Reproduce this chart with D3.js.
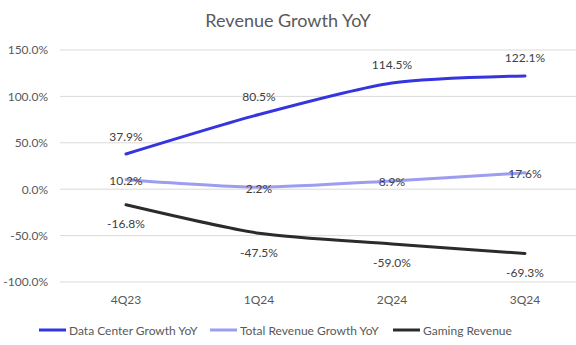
<!DOCTYPE html>
<html>
<head>
<meta charset="utf-8">
<script src="https://cdn.jsdelivr.net/npm/d3@7"></script>
<style>
  body { margin: 0; background: #fff; }
  text { font-family: Lato, "Liberation Sans", sans-serif; }
</style>
</head>
<body>
<div id="chart"></div>
<script>
// Chart data.
var quarters = ["4Q23", "1Q24", "2Q24", "3Q24"];
var dataCenter = [37.9, 80.5, 114.5, 122.1];
var totalRevenue = [10.2, 2.2, 8.9, 17.6];
var gaming = [-16.8, -47.5, -59.0, -69.3];
var yTicks = [-100, -50, 0, 50, 100, 150];

var series = [
  { name: "Data Center Growth YoY", values: dataCenter, color: "#3535e0", labelPos: "above" },
  { name: "Total Revenue Growth YoY", values: totalRevenue, color: "#9c9cf0", labelPos: "center" },
  { name: "Gaming Revenue", values: gaming, color: "#2b2b2b", labelPos: "below" }
];

var svgWidth = 576;
var svgHeight = 345;

var svg = d3.select("#chart")
  .append("svg")
  .attr("width", svgWidth)
  .attr("height", svgHeight);

// Title.
svg.append("text")
  .attr("x", 288)
  .attr("y", 27)
  .attr("text-anchor", "middle")
  .attr("font-size", "18px")
  .attr("fill", "#595959")
  .text("Revenue Growth YoY");

// Scales.
var xScale = d3.scaleBand()
  .domain(quarters)
  .range([59.5, 591.5]);

var yScale = d3.scaleLinear()
  .domain([-100, 150])
  .range([282, 50]);

// Gridlines.
svg.append("g")
  .selectAll("line")
  .data(yTicks)
  .enter()
  .append("line")
  .attr("x1", 60)
  .attr("x2", 576)
  .attr("y1", d => yScale(d))
  .attr("y2", d => yScale(d))
  .attr("stroke", "#d9d9d9")
  .attr("stroke-width", 1);

// Y axis labels.
var leftAxis = d3.axisLeft(yScale)
  .tickValues(yTicks)
  .tickSize(0)
  .tickPadding(0)
  .tickFormat(d => d.toFixed(1) + "%");

svg.append("g")
  .attr("transform", "translate(48, 0)")
  .call(leftAxis)
  .call(g => g.select(".domain").remove())
  .selectAll("text")
  .attr("font-family", "Lato, sans-serif")
  .attr("font-size", "12px")
  .attr("fill", "#595959");

// X axis labels.
var bottomAxis = d3.axisBottom(xScale)
  .tickSize(0)
  .tickPadding(0);

svg.append("g")
  .attr("transform", "translate(0, 295)")
  .call(bottomAxis)
  .call(g => g.select(".domain").remove())
  .selectAll("text")
  .attr("font-family", "Lato, sans-serif")
  .attr("font-size", "12px")
  .attr("fill", "#595959");

var cx = q => xScale(q) + xScale.bandwidth() / 2;

var line = d3.line()
  .x((d, i) => cx(quarters[i]))
  .y(d => yScale(d))
  .curve(d3.curveCardinal.tension(0.3));

// Lines.
series.forEach(s => {
  svg.append("path")
    .datum(s.values)
    .attr("d", line)
    .attr("fill", "none")
    .attr("stroke", s.color)
    .attr("stroke-width", 3)
    .attr("stroke-linecap", "round");
});

// Data labels.
series.forEach(s => {
  svg.append("g")
    .selectAll("text")
    .data(s.values)
    .enter()
    .append("text")
    .attr("x", (d, i) => cx(quarters[i]))
    .attr("y", d => {
      var y = yScale(d);
      if (s.labelPos === "above") return y - 18;
      if (s.labelPos === "below") return y + 19;
      return y + 1;
    })
    .attr("text-anchor", "middle")
    .attr("dominant-baseline", "central")
    .attr("font-size", "12px")
    .attr("fill", "#404040")
    .text(d => d.toFixed(1) + "%");
});

// Legend.
var legendX = [39, 210, 393];
var legend = svg.append("g")
  .selectAll("g")
  .data(series)
  .enter()
  .append("g")
  .attr("transform", (d, i) => `translate(${legendX[i]}, 330)`);

legend.append("line")
  .attr("x1", 0)
  .attr("x2", 27)
  .attr("stroke", d => d.color)
  .attr("stroke-width", 3);

legend.append("text")
  .attr("x", 30)
  .attr("dominant-baseline", "central")
  .attr("font-size", "12px")
  .attr("fill", "#595959")
  .text(d => d.name);
</script>
</body>
</html>
